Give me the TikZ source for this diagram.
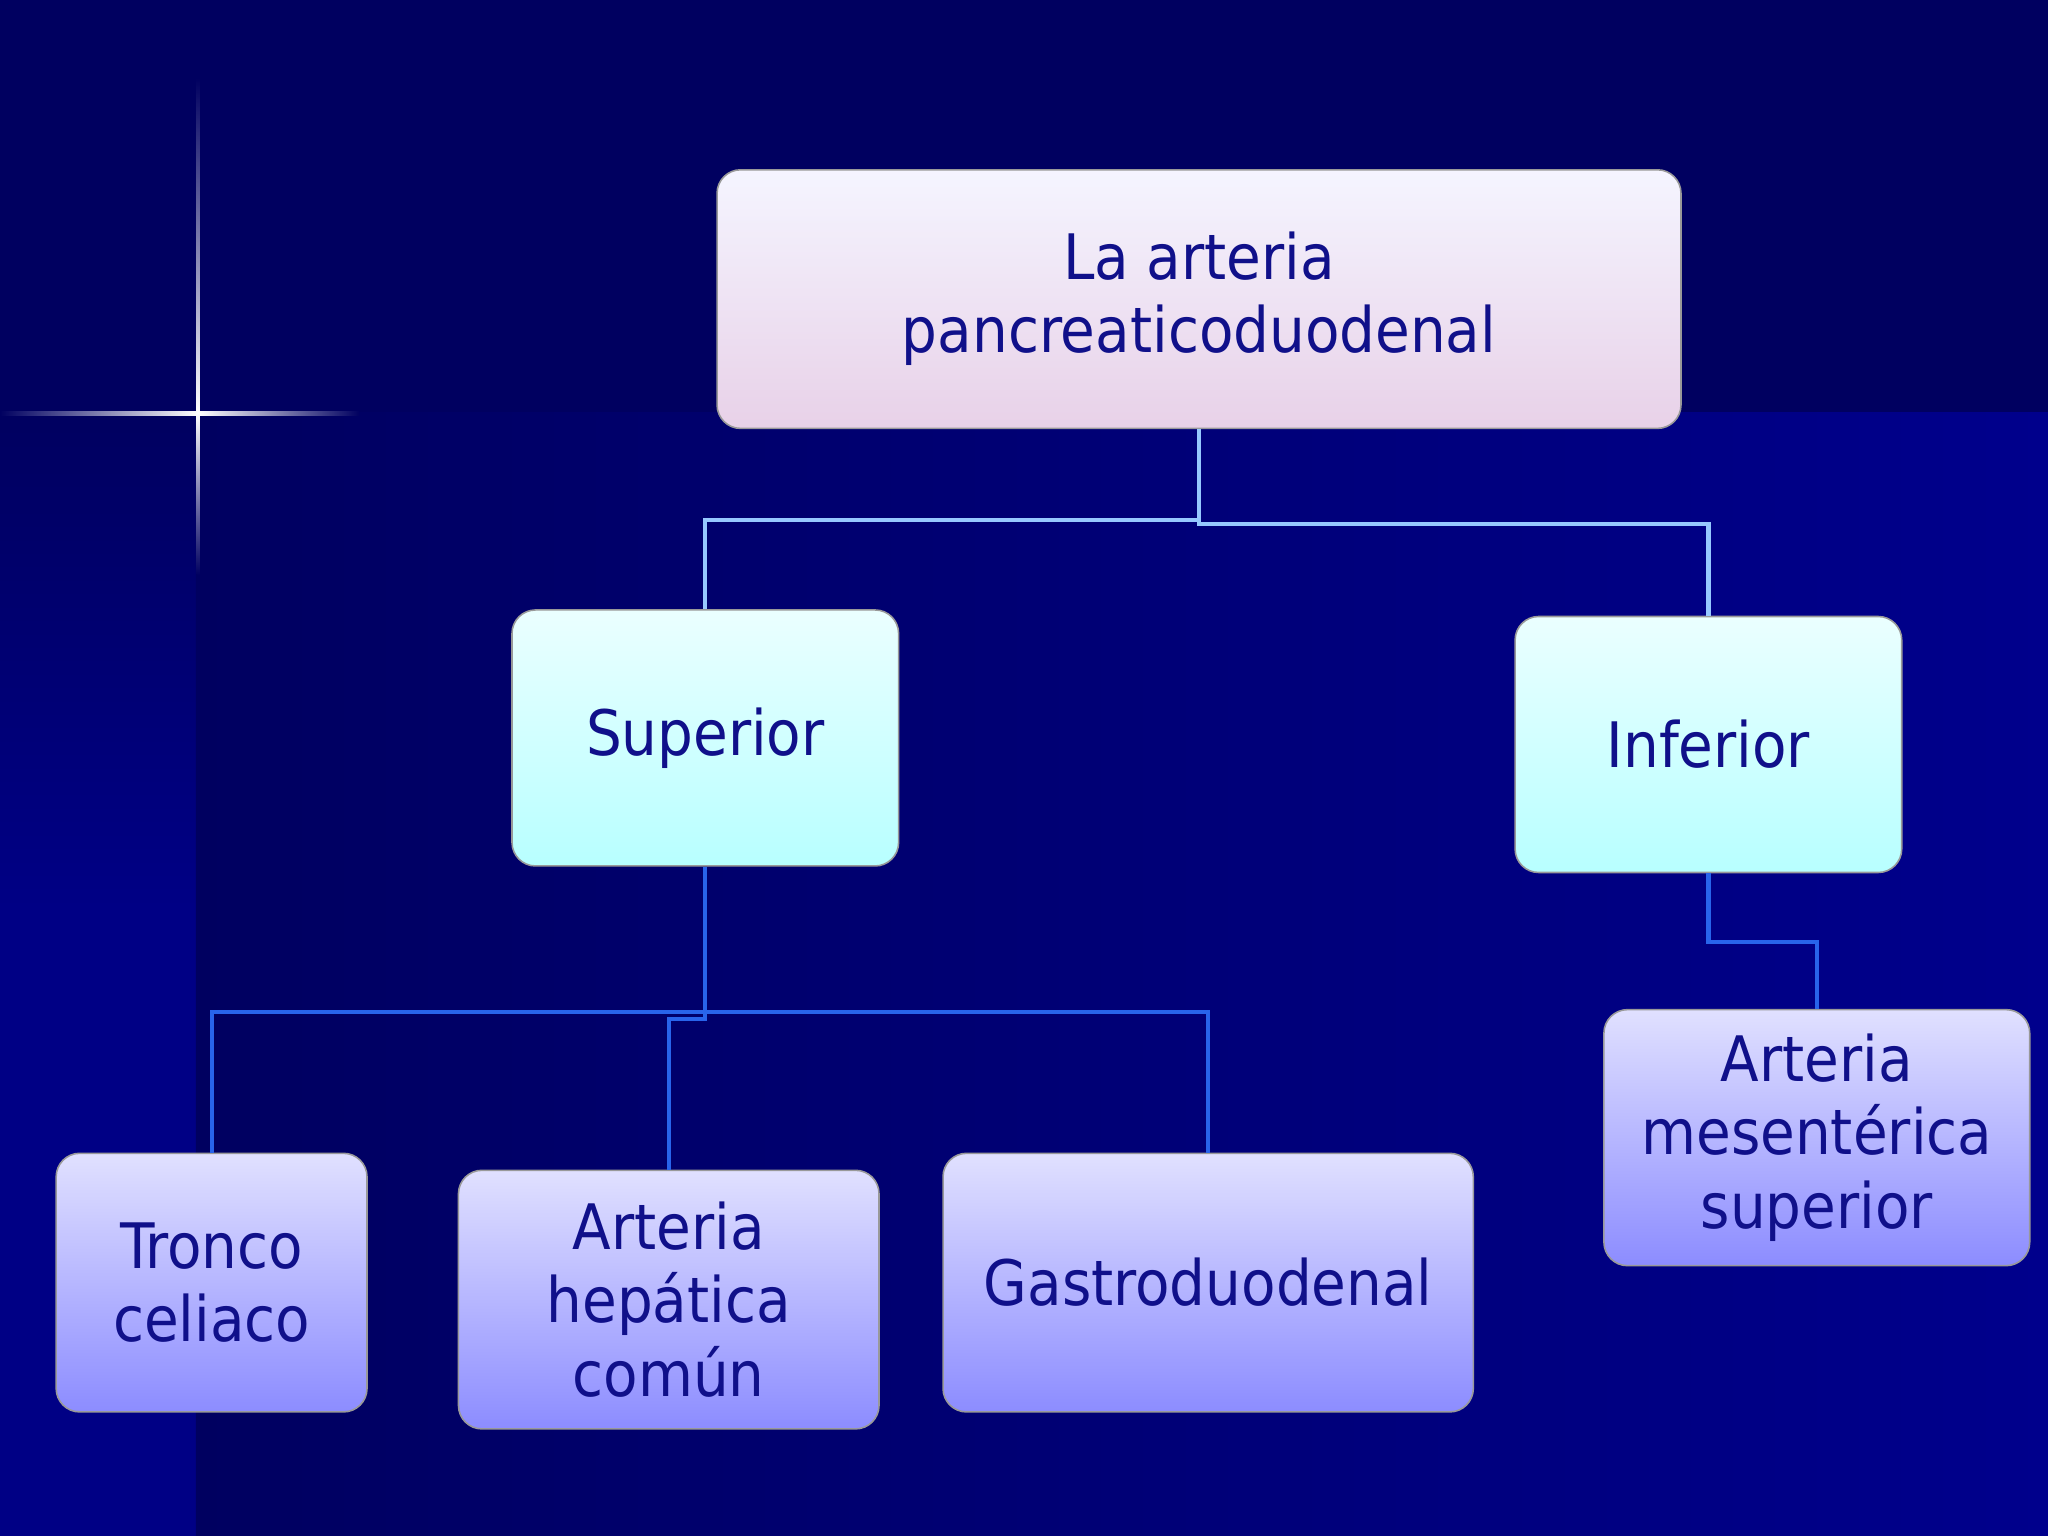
\documentclass[tikz,border=0pt]{standalone}
\usepackage{fontspec}
\setmainfont{DejaVu Sans Condensed}
\begin{document}
\begin{tikzpicture}[x=0.5pt,y=-0.5pt,
 box/.style={rounded corners=9pt,draw=black!40,line width=0.6pt,align=center,text=txt,font=\fontsize{24}{28}\selectfont,inner sep=0pt},
 topbox/.style={box,top color=white!96!blue,bottom color=white!82!violet},
 midbox/.style={box,top color=cyan!8,bottom color=cyan!28},
 lowbox/.style={box,top color=white!88!blue,bottom color=blue!45!white},
 c1/.style={line width=1.6pt,draw=lightc},
 c2/.style={line width=1.6pt,draw=midc}]
\definecolor{txt}{RGB}{16,16,138}
\definecolor{lightc}{RGB}{150,200,255}
\definecolor{midc}{RGB}{40,100,235}
\definecolor{bgA}{RGB}{0,0,96}
\definecolor{bgB}{RGB}{0,0,140}
\useasboundingbox (0,0) rectangle (1568,1176);
\fill[bgA] (0,0) rectangle (1568,1176);
\fill[left color=bgA,right color=bgB] (150,316) rectangle (1568,1176);
\fill[bgB!85!bgA] (0,316) rectangle (150,1176);
\fill[top color=bgA,bottom color=bgB!85!bgA] (0,316) rectangle (150,700);
\fill[left color=bgA,right color=bgB] (150,316) rectangle (1568,1176);
\shade[left color=bgA,right color=white] (0,315) rectangle (152,318);
\shade[left color=white,right color=bgA] (152,315) rectangle (275,318);
\shade[top color=bgA,bottom color=white] (150.5,60) rectangle (153,316);
\shade[top color=white,bottom color=bgA] (150.5,316) rectangle (153,440);
\node[topbox,minimum width=369pt,minimum height=99pt] (top) at (918,229) {La arteria\\pancreaticoduodenal};
\node[midbox,minimum width=148pt,minimum height=98pt] (sup) at (540,565) {Superior};
\node[midbox,minimum width=148pt,minimum height=98pt] (inf) at (1308,570) {Inferior};
\node[lowbox,minimum width=119pt,minimum height=99pt] (tr) at (162,982) {Tronco\\celiaco};
\node[lowbox,minimum width=161pt,minimum height=99pt] (hep) at (512,995) {Arteria\\hepática\\común};
\node[lowbox,minimum width=203pt,minimum height=99pt] (gas) at (925,982) {Gastroduodenal};
\node[lowbox,minimum width=163pt,minimum height=98pt] (mes) at (1391,871) {Arteria\\mesentérica\\superior};
\draw[c1] (top.south) -- (918,398) -| (sup.north);
\draw[c1] (918,398) |- (1308,401) -- (inf.north);
\draw[c2] (sup.south) -- (540,775) -| (tr.north);
\draw[c2] (540,775) -| (gas.north);
\draw[c2] (540,775) -- (540,780) -| (hep.north);
\draw[c2] (inf.south) -- (1308,721) -| (mes.north);
\end{tikzpicture}
\end{document}
